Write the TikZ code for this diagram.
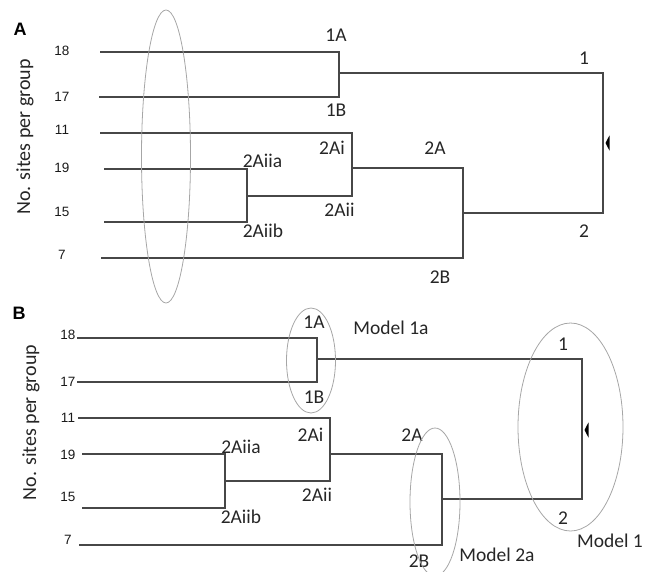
\documentclass[tikz,border=0pt]{standalone}
\usepackage{fontspec}
\setmainfont{Carlito}
\newfontfamily\numfont{Liberation Sans}
\usetikzlibrary{shapes.geometric}
\tikzset{
  branch/.style={draw=black!72, line width=1.3pt},
  ring/.style={draw=black!35, line width=0.8pt, ellipse, inner sep=0pt},
  lab/.style={inner sep=0pt, text=black!85, font=\fontsize{19.5}{20}\selectfont},
  num/.style={inner sep=0pt, text=black!90, font=\numfont\fontsize{13.5}{14}\selectfont},
  panel/.style={inner sep=0pt, font=\numfont\bfseries\fontsize{18}{18}\selectfont},
  axis/.style={inner sep=0pt, rotate=90, text=black!85, font=\fontsize{20}{20}\selectfont},
  marker/.style={fill=black}
}
\begin{document}
\begin{tikzpicture}[x=1pt,y=-1pt]
\useasboundingbox (0,0) rectangle (646,571);

% ================= Panel A =================
\node[panel] (pA) at (20,29) {A};
\node[axis] (yA) at (25,137) {No. sites per group};
\node[num] (nA18) at (62,51) {18};
\node[num] (nA17) at (62,97) {17};
\node[num] (nA11) at (62,130) {11};
\node[num] (nA19) at (62,168) {19};
\node[num] (nA15) at (62,212) {15};
\node[num] (nA7)  at (62,255) {7};

\coordinate (a18) at (100,52);
\coordinate (a17) at (99,97);
\coordinate (a11) at (100,133);
\coordinate (a19) at (104,169);
\coordinate (a15) at (104,222);
\coordinate (a7)  at (101,258);
\coordinate (aJ1)   at (339,73);
\coordinate (aJiia) at (247,196);
\coordinate (aJA)   at (352,168);
\coordinate (aJ2)   at (463,213);
\coordinate (aR)    at (603,143);

\draw[branch] (a18) -| (aJ1);
\draw[branch] (a17) -| (aJ1);
\draw[branch] (a19) -| (aJiia);
\draw[branch] (a15) -| (aJiia);
\draw[branch] (a11) -| (aJA);
\draw[branch] (aJiia) -| (aJA);
\draw[branch] (aJA) -| (aJ2);
\draw[branch] (a7) -| (aJ2);
\draw[branch] (aJ1) -| (aR);
\draw[branch] (aJ2) -| (aR);
\fill[marker, shift={(aR)}] (2.5,0) .. controls (4,-3) and (5,-5) .. (6.5,-7.5) -- (6.5,7.5) .. controls (5,5) and (4,3) .. (2.5,0) -- cycle;

\node[lab] (lA1A)   at (336,35) {1A};
\node[lab] (lA1B)   at (336,110) {1B};
\node[lab] (lA1)    at (584,58) {1};
\node[lab] (lA2)    at (584,231) {2};
\node[lab] (lA2Ai)  at (332,148) {2Ai};
\node[lab] (lA2A)   at (435,148) {2A};
\node[lab] (lA2Aii) at (339.5,210) {2Aii};
\node[lab] (lA2B)   at (440,277) {2B};
\node[lab] (lA2Aiia) at (262.5,161) {2Aiia};
\node[lab] (lA2Aiib) at (263,231) {2Aiib};

\node[ring, minimum width=49pt, minimum height=293pt] (eA) at (166,156.5) {};

% ================= Panel B =================
\node[panel] (pB) at (19,313) {B};
\node[axis] (yB) at (31,422.5) {No. sites per group};
\node[num] (nB18) at (68,335) {18};
\node[num] (nB17) at (68,382) {17};
\node[num] (nB11) at (68,418) {11};
\node[num] (nB19) at (68,455) {19};
\node[num] (nB15) at (68,497) {15};
\node[num] (nB7)  at (68,540) {7};

\coordinate (b18) at (77,338);
\coordinate (b17) at (77,382);
\coordinate (b11) at (78,418);
\coordinate (b19) at (82,454);
\coordinate (b15) at (82,508);
\coordinate (b7)  at (79,545);
\coordinate (bJ1)   at (317,359);
\coordinate (bJiia) at (225,481);
\coordinate (bJA)   at (330,454);
\coordinate (bJ2)   at (442,499);
\coordinate (bR)    at (582,430);

\draw[branch] (b18) -| (bJ1);
\draw[branch] (b17) -| (bJ1);
\draw[branch] (b19) -| (bJiia);
\draw[branch] (b15) -| (bJiia);
\draw[branch] (b11) -| (bJA);
\draw[branch] (bJiia) -| (bJA);
\draw[branch] (bJA) -| (bJ2);
\draw[branch] (b7) -| (bJ2);
\draw[branch] (bJ1) -| (bR);
\draw[branch] (bJ2) -| (bR);
\fill[marker, shift={(bR)}] (2.5,0) .. controls (4,-3) and (5,-5) .. (6.5,-7.5) -- (6.5,7.5) .. controls (5,5) and (4,3) .. (2.5,0) -- cycle;

\node[lab] (lB1A)   at (314,322) {1A};
\node[lab] (lB1B)   at (314,397) {1B};
\node[lab] (lB1)    at (563,344) {1};
\node[lab] (lB2)    at (563,518) {2};
\node[lab] (lB2Ai)  at (310.5,435) {2Ai};
\node[lab] (lB2A)   at (412,435) {2A};
\node[lab] (lB2Aii) at (317,495) {2Aii};
\node[lab] (lB2B)   at (419,561) {2B};
\node[lab] (lB2Aiia) at (241,447) {2Aiia};
\node[lab] (lB2Aiib) at (241,517) {2Aiib};
\node[lab] (lM1a) at (391,328) {Model 1a};
\node[lab, anchor=west] (lM1) at (577,541) {Model 1};
\node[lab] (lM2a) at (497,555) {Model 2a};

\node[ring, minimum width=49pt, minimum height=105pt] (eB1a) at (311,360.5) {};
\node[ring, minimum width=50pt, minimum height=148pt] (eB2a) at (435,502) {};
\node[ring, minimum width=105pt, minimum height=208pt] (eB1) at (570.5,427) {};
\end{tikzpicture}
\end{document}
